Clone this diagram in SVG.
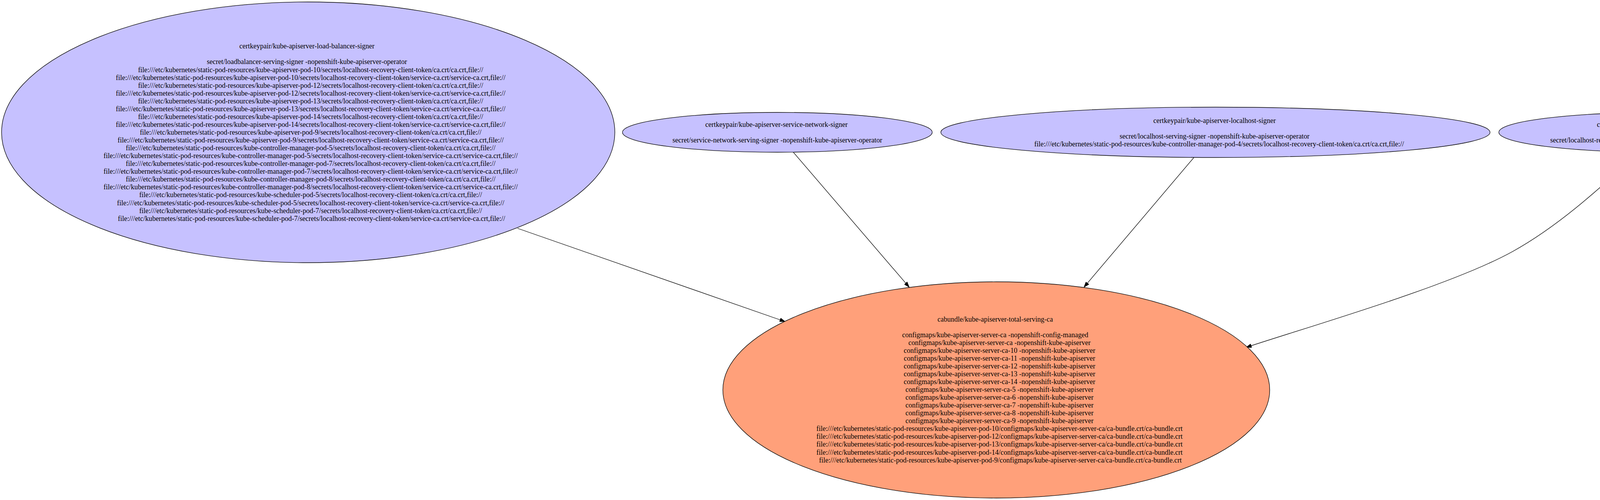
<svg xmlns="http://www.w3.org/2000/svg" width="4661" height="1281" viewBox="0 0 4661 1281">
<style>
.bg{fill:#ffffff}
.signer{fill:#c6c1ff;stroke:#000000;stroke-width:1.3}
.bundle{fill:#ffa07a;stroke:#000000;stroke-width:1.3}
.lbl{font-family:"Liberation Serif","Times New Roman",serif;font-size:18px;fill:#000000;text-anchor:middle}
.edge{fill:none;stroke:#000000;stroke-width:1.3}
</style>
<defs>
<marker id="arrow" markerUnits="userSpaceOnUse" markerWidth="14" markerHeight="10" viewBox="0 0 13 9" refX="13" refY="4.5" orient="auto">
<path d="M0,0 L13,4.5 L0,9 z" fill="#000000" stroke="#000000" stroke-width="1"/>
</marker>
</defs>
<rect class="bg" x="0" y="0" width="4661" height="1281"/>
<g id="connectors">
<path class="edge" marker-end="url(#arrow)" d="M1325,585 L2010,824"/>
<path class="edge" marker-end="url(#arrow)" d="M2030,389 L2327.5,735.7"/>
<path class="edge" marker-end="url(#arrow)" d="M3056,404 L2775,735.7"/>
<path class="edge" marker-end="url(#arrow)" d="M4197,390 C4095.6,481.8 3992.7,577.4 3873,644 C3715.7,731.5 3361,833.5 3190,890"/>
</g>
<g id="load-balancer-signer">
<ellipse class="signer" cx="789" cy="339" rx="785" ry="334"/>
<text class="lbl">
<tspan x="788" y="124.3">certkeypair/kube-apiserver-load-balancer-signer</tspan>
<tspan x="788" y="164.4">secret/loadbalancer-serving-signer -nopenshift-kube-apiserver-operator</tspan>
<tspan x="797.5" y="184.5">file:///etc/kubernetes/static-pod-resources/kube-apiserver-pod-10/secrets/localhost-recovery-client-token/ca.crt/ca.crt,file://</tspan>
<tspan x="797.5" y="204.5">file:///etc/kubernetes/static-pod-resources/kube-apiserver-pod-10/secrets/localhost-recovery-client-token/service-ca.crt/service-ca.crt,file://</tspan>
<tspan x="797.5" y="224.6">file:///etc/kubernetes/static-pod-resources/kube-apiserver-pod-12/secrets/localhost-recovery-client-token/ca.crt/ca.crt,file://</tspan>
<tspan x="797.5" y="244.7">file:///etc/kubernetes/static-pod-resources/kube-apiserver-pod-12/secrets/localhost-recovery-client-token/service-ca.crt/service-ca.crt,file://</tspan>
<tspan x="797.5" y="264.7">file:///etc/kubernetes/static-pod-resources/kube-apiserver-pod-13/secrets/localhost-recovery-client-token/ca.crt/ca.crt,file://</tspan>
<tspan x="797.5" y="284.8">file:///etc/kubernetes/static-pod-resources/kube-apiserver-pod-13/secrets/localhost-recovery-client-token/service-ca.crt/service-ca.crt,file://</tspan>
<tspan x="797.5" y="304.8">file:///etc/kubernetes/static-pod-resources/kube-apiserver-pod-14/secrets/localhost-recovery-client-token/ca.crt/ca.crt,file://</tspan>
<tspan x="797.5" y="324.9">file:///etc/kubernetes/static-pod-resources/kube-apiserver-pod-14/secrets/localhost-recovery-client-token/service-ca.crt/service-ca.crt,file://</tspan>
<tspan x="797.5" y="345.0">file:///etc/kubernetes/static-pod-resources/kube-apiserver-pod-9/secrets/localhost-recovery-client-token/ca.crt/ca.crt,file://</tspan>
<tspan x="797.5" y="365.0">file:///etc/kubernetes/static-pod-resources/kube-apiserver-pod-9/secrets/localhost-recovery-client-token/service-ca.crt/service-ca.crt,file://</tspan>
<tspan x="797.5" y="385.1">file:///etc/kubernetes/static-pod-resources/kube-controller-manager-pod-5/secrets/localhost-recovery-client-token/ca.crt/ca.crt,file://</tspan>
<tspan x="797.5" y="405.1">file:///etc/kubernetes/static-pod-resources/kube-controller-manager-pod-5/secrets/localhost-recovery-client-token/service-ca.crt/service-ca.crt,file://</tspan>
<tspan x="797.5" y="425.2">file:///etc/kubernetes/static-pod-resources/kube-controller-manager-pod-7/secrets/localhost-recovery-client-token/ca.crt/ca.crt,file://</tspan>
<tspan x="797.5" y="445.2">file:///etc/kubernetes/static-pod-resources/kube-controller-manager-pod-7/secrets/localhost-recovery-client-token/service-ca.crt/service-ca.crt,file://</tspan>
<tspan x="797.5" y="465.3">file:///etc/kubernetes/static-pod-resources/kube-controller-manager-pod-8/secrets/localhost-recovery-client-token/ca.crt/ca.crt,file://</tspan>
<tspan x="797.5" y="485.4">file:///etc/kubernetes/static-pod-resources/kube-controller-manager-pod-8/secrets/localhost-recovery-client-token/service-ca.crt/service-ca.crt,file://</tspan>
<tspan x="797.5" y="505.4">file:///etc/kubernetes/static-pod-resources/kube-scheduler-pod-5/secrets/localhost-recovery-client-token/ca.crt/ca.crt,file://</tspan>
<tspan x="797.5" y="525.5">file:///etc/kubernetes/static-pod-resources/kube-scheduler-pod-5/secrets/localhost-recovery-client-token/service-ca.crt/service-ca.crt,file://</tspan>
<tspan x="797.5" y="545.6">file:///etc/kubernetes/static-pod-resources/kube-scheduler-pod-7/secrets/localhost-recovery-client-token/ca.crt/ca.crt,file://</tspan>
<tspan x="797.5" y="565.6">file:///etc/kubernetes/static-pod-resources/kube-scheduler-pod-7/secrets/localhost-recovery-client-token/service-ca.crt/service-ca.crt,file://</tspan>
</text>
</g>
<g id="service-network-signer">
<ellipse class="signer" cx="1990" cy="339" rx="396.5" ry="51"/>
<text class="lbl">
<tspan x="1990" y="324.9">certkeypair/kube-apiserver-service-network-signer</tspan>
<tspan x="1990" y="365.1">secret/service-network-serving-signer -nopenshift-kube-apiserver-operator</tspan>
</text>
</g>
<g id="localhost-signer">
<ellipse class="signer" cx="3111.5" cy="339" rx="703" ry="64.5"/>
<text class="lbl">
<tspan x="3111.5" y="314.9">certkeypair/kube-apiserver-localhost-signer</tspan>
<tspan x="3111.5" y="355.0">secret/localhost-serving-signer -nopenshift-kube-apiserver-operator</tspan>
<tspan x="3121" y="375.1">file:///etc/kubernetes/static-pod-resources/kube-controller-manager-pod-4/secrets/localhost-recovery-client-token/ca.crt/ca.crt,file://</tspan>
</text>
</g>
<g id="recovery-signer">
<ellipse class="signer" cx="4246" cy="339" rx="409" ry="51"/>
<text class="lbl">
<tspan x="4246" y="324.9">certkeypair/kube-apiserver-recovery-signer</tspan>
<tspan x="4246" y="365.1">secret/localhost-recovery-serving-signer -nopenshift-kube-apiserver-operator</tspan>
</text>
</g>
<g id="total-serving-ca">
<ellipse class="bundle" cx="2550.5" cy="999" rx="700" ry="277"/>
<text class="lbl">
<tspan x="2550" y="823.5">cabundle/kube-apiserver-total-serving-ca</tspan>
<tspan x="2550" y="863.6">configmaps/kube-apiserver-server-ca -nopenshift-config-managed</tspan>
<tspan x="2561" y="883.7">configmaps/kube-apiserver-server-ca -nopenshift-kube-apiserver</tspan>
<tspan x="2561" y="903.7">configmaps/kube-apiserver-server-ca-10 -nopenshift-kube-apiserver</tspan>
<tspan x="2561" y="923.8">configmaps/kube-apiserver-server-ca-11 -nopenshift-kube-apiserver</tspan>
<tspan x="2561" y="943.8">configmaps/kube-apiserver-server-ca-12 -nopenshift-kube-apiserver</tspan>
<tspan x="2561" y="963.9">configmaps/kube-apiserver-server-ca-13 -nopenshift-kube-apiserver</tspan>
<tspan x="2561" y="984.0">configmaps/kube-apiserver-server-ca-14 -nopenshift-kube-apiserver</tspan>
<tspan x="2561" y="1004.0">configmaps/kube-apiserver-server-ca-5 -nopenshift-kube-apiserver</tspan>
<tspan x="2561" y="1024.1">configmaps/kube-apiserver-server-ca-6 -nopenshift-kube-apiserver</tspan>
<tspan x="2561" y="1044.1">configmaps/kube-apiserver-server-ca-7 -nopenshift-kube-apiserver</tspan>
<tspan x="2561" y="1064.2">configmaps/kube-apiserver-server-ca-8 -nopenshift-kube-apiserver</tspan>
<tspan x="2561" y="1084.3">configmaps/kube-apiserver-server-ca-9 -nopenshift-kube-apiserver</tspan>
<tspan x="2561" y="1104.3">file:///etc/kubernetes/static-pod-resources/kube-apiserver-pod-10/configmaps/kube-apiserver-server-ca/ca-bundle.crt/ca-bundle.crt</tspan>
<tspan x="2561" y="1124.4">file:///etc/kubernetes/static-pod-resources/kube-apiserver-pod-12/configmaps/kube-apiserver-server-ca/ca-bundle.crt/ca-bundle.crt</tspan>
<tspan x="2561" y="1144.4">file:///etc/kubernetes/static-pod-resources/kube-apiserver-pod-13/configmaps/kube-apiserver-server-ca/ca-bundle.crt/ca-bundle.crt</tspan>
<tspan x="2561" y="1164.5">file:///etc/kubernetes/static-pod-resources/kube-apiserver-pod-14/configmaps/kube-apiserver-server-ca/ca-bundle.crt/ca-bundle.crt</tspan>
<tspan x="2561" y="1184.6">file:///etc/kubernetes/static-pod-resources/kube-apiserver-pod-9/configmaps/kube-apiserver-server-ca/ca-bundle.crt/ca-bundle.crt</tspan>
</text>
</g>
</svg>
